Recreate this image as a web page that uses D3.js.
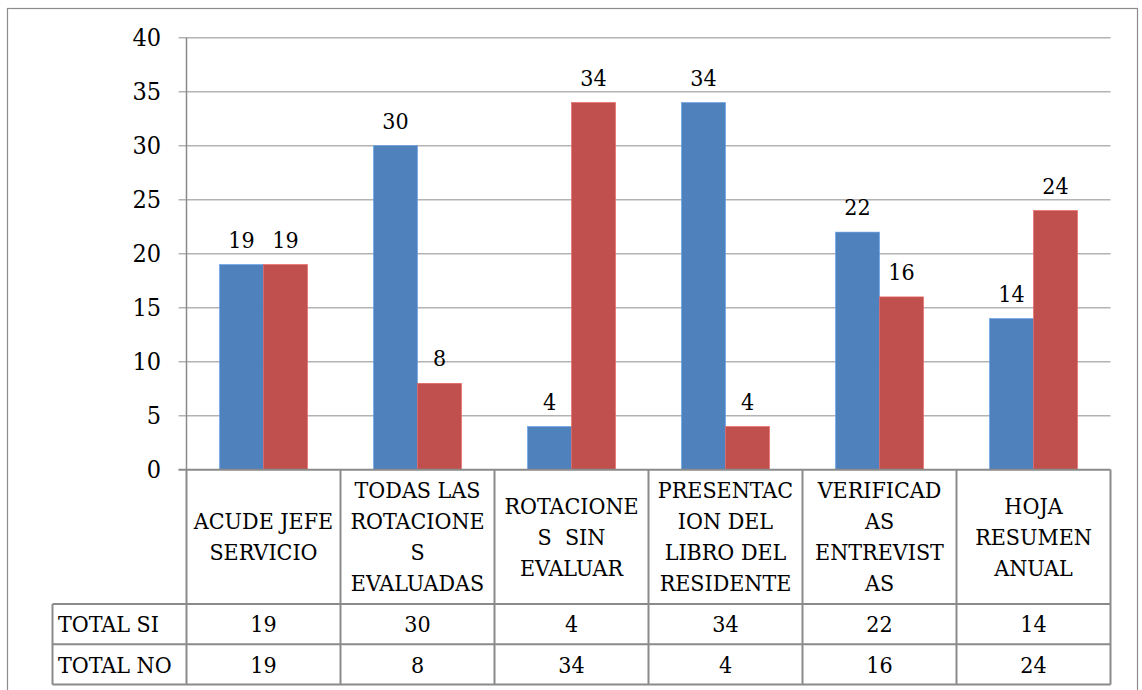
<!DOCTYPE html>
<html>
<head>
  <meta charset="utf-8">
  <title>Rotaciones</title>
  <script src="https://d3js.org/d3.v7.min.js"></script>
  <style>
    body { margin: 0; background: #fff; }
    svg text { fill: #000; white-space: pre; font-family: "DejaVu Serif Condensed", "DejaVu Serif", serif; font-stretch: condensed; }
  </style>
</head>
<body>
<script type="text/javascript">
  var categories = [
    ["ACUDE JEFE", "SERVICIO"],
    ["TODAS LAS", "ROTACIONE", "S", "EVALUADAS"],
    ["ROTACIONE", "S  SIN", "EVALUAR"],
    ["PRESENTAC", "ION DEL", "LIBRO DEL", "RESIDENTE"],
    ["VERIFICAD", "AS", "ENTREVIST", "AS"],
    ["HOJA", "RESUMEN", "ANUAL"]
  ];
  var series = ["TOTAL SI", "TOTAL NO"];
  var totalSi = [19, 30, 4, 34, 22, 14];
  var totalNo = [19, 8, 34, 4, 16, 24];
  var yTicks = [0, 5, 10, 15, 20, 25, 30, 35, 40];
  var colors = ["#4F81BD", "#C0504D"];

  var w = 1142, h = 690;
  var plotLeft = 186.5, plotRight = 1110.5, plotTop = 37.7, plotBottom = 469.7;
  var tableLeft = 52.5, headerBottom = 604, rowH = 40.3;

  var svg = d3.select("body").append("svg")
    .attr("width", w)
    .attr("height", h);

  // outer frame
  svg.append("rect")
    .attr("x", 7.5).attr("y", 8.5)
    .attr("width", 1130).attr("height", 700)
    .attr("fill", "none").attr("stroke", "#8c8c8c").attr("stroke-width", 1.2);

  var idx = d3.range(categories.length);
  var x0 = d3.scaleBand().domain(idx).range([plotLeft, plotRight]).padding(0);
  var x1 = d3.scaleBand().domain(d3.range(series.length))
    .range([0, x0.bandwidth()]).paddingInner(0).paddingOuter(0.75);
  var y = d3.scaleLinear().domain([0, 40]).range([plotBottom, plotTop]);

  // gridlines + ticks
  svg.append("g").selectAll("line")
    .data(yTicks.filter(function(d){ return d > 0; }))
    .enter().append("line")
    .attr("x1", plotLeft - 8).attr("x2", plotRight)
    .attr("y1", function(d){ return y(d); })
    .attr("y2", function(d){ return y(d); })
    .attr("stroke", "#b3b3b3").attr("stroke-width", 1.5);

  svg.append("line")
    .attr("x1", plotLeft).attr("x2", plotLeft)
    .attr("y1", plotTop).attr("y2", plotBottom)
    .attr("stroke", "#8a8a8a").attr("stroke-width", 1.5);

  svg.append("g").selectAll("text")
    .data(yTicks)
    .enter().append("text")
    .attr("x", 161)
    .attr("y", function(d){ return y(d); })
    .attr("dy", "0.35em")
    .attr("text-anchor", "end")
    .attr("font-size", "25px")
    .text(function(d){ return d; });

  // bars
  var values = [totalSi, totalNo];
  series.forEach(function(s, si){
    var g = svg.append("g");
    g.selectAll("rect")
      .data(values[si])
      .enter().append("rect")
      .attr("x", function(d, i){ return x0(i) + x1(si); })
      .attr("y", function(d){ return y(d); })
      .attr("width", x1.bandwidth())
      .attr("height", function(d){ return plotBottom - y(d); })
      .attr("fill", colors[si])
      .attr("stroke", d3.color(colors[si]).brighter(0.6))
      .attr("stroke-width", 0.6);

    g.selectAll("text")
      .data(values[si])
      .enter().append("text")
      .attr("x", function(d, i){ return x0(i) + x1(si) + x1.bandwidth() / 2; })
      .attr("y", function(d){ return y(d) - 17; })
      .attr("text-anchor", "middle")
      .attr("font-size", "23px")
      .text(function(d){ return d; });
  });

  // data table
  var lineColor = "#8a8a8a";
  var tbl = svg.append("g").attr("stroke", lineColor).attr("stroke-width", 2).attr("fill", "none");
  tbl.append("line").attr("x1", plotLeft - 8).attr("x2", plotRight).attr("y1", plotBottom).attr("y2", plotBottom);
  [headerBottom, headerBottom + rowH, headerBottom + 2 * rowH].forEach(function(yy){
    tbl.append("line").attr("x1", tableLeft).attr("x2", plotRight).attr("y1", yy).attr("y2", yy);
  });
  idx.concat([categories.length]).forEach(function(i){
    var xx = i < categories.length ? x0(i) : plotRight;
    tbl.append("line").attr("x1", xx).attr("x2", xx).attr("y1", plotBottom).attr("y2", headerBottom + 2 * rowH);
  });
  tbl.append("line").attr("x1", tableLeft).attr("x2", tableLeft)
    .attr("y1", headerBottom).attr("y2", headerBottom + 2 * rowH);

  // header labels
  var lineH = 31;
  categories.forEach(function(lines, i){
    var cy = (plotBottom + headerBottom) / 2;
    var t = svg.append("text")
      .attr("text-anchor", "middle")
      .attr("font-size", "23px");
    lines.forEach(function(l, k){
      t.append("tspan")
        .attr("x", x0(i) + x0.bandwidth() / 2)
        .attr("y", cy + (k - (lines.length - 1) / 2) * lineH)
        .attr("dy", "0.35em")
        .text(l);
    });
  });

  // row labels and values
  series.forEach(function(s, si){
    var cy = headerBottom + rowH * si + rowH / 2;
    svg.append("text")
      .attr("x", 58).attr("y", cy).attr("dy", "0.35em")
      .attr("font-size", "23px")
      .text(s);
    svg.append("g").selectAll("text")
      .data(values[si])
      .enter().append("text")
      .attr("x", function(d, i){ return x0(i) + x0.bandwidth() / 2; })
      .attr("y", cy).attr("dy", "0.35em")
      .attr("text-anchor", "middle")
      .attr("font-size", "23px")
      .text(function(d){ return d; });
  });
</script>
</body>
</html>
